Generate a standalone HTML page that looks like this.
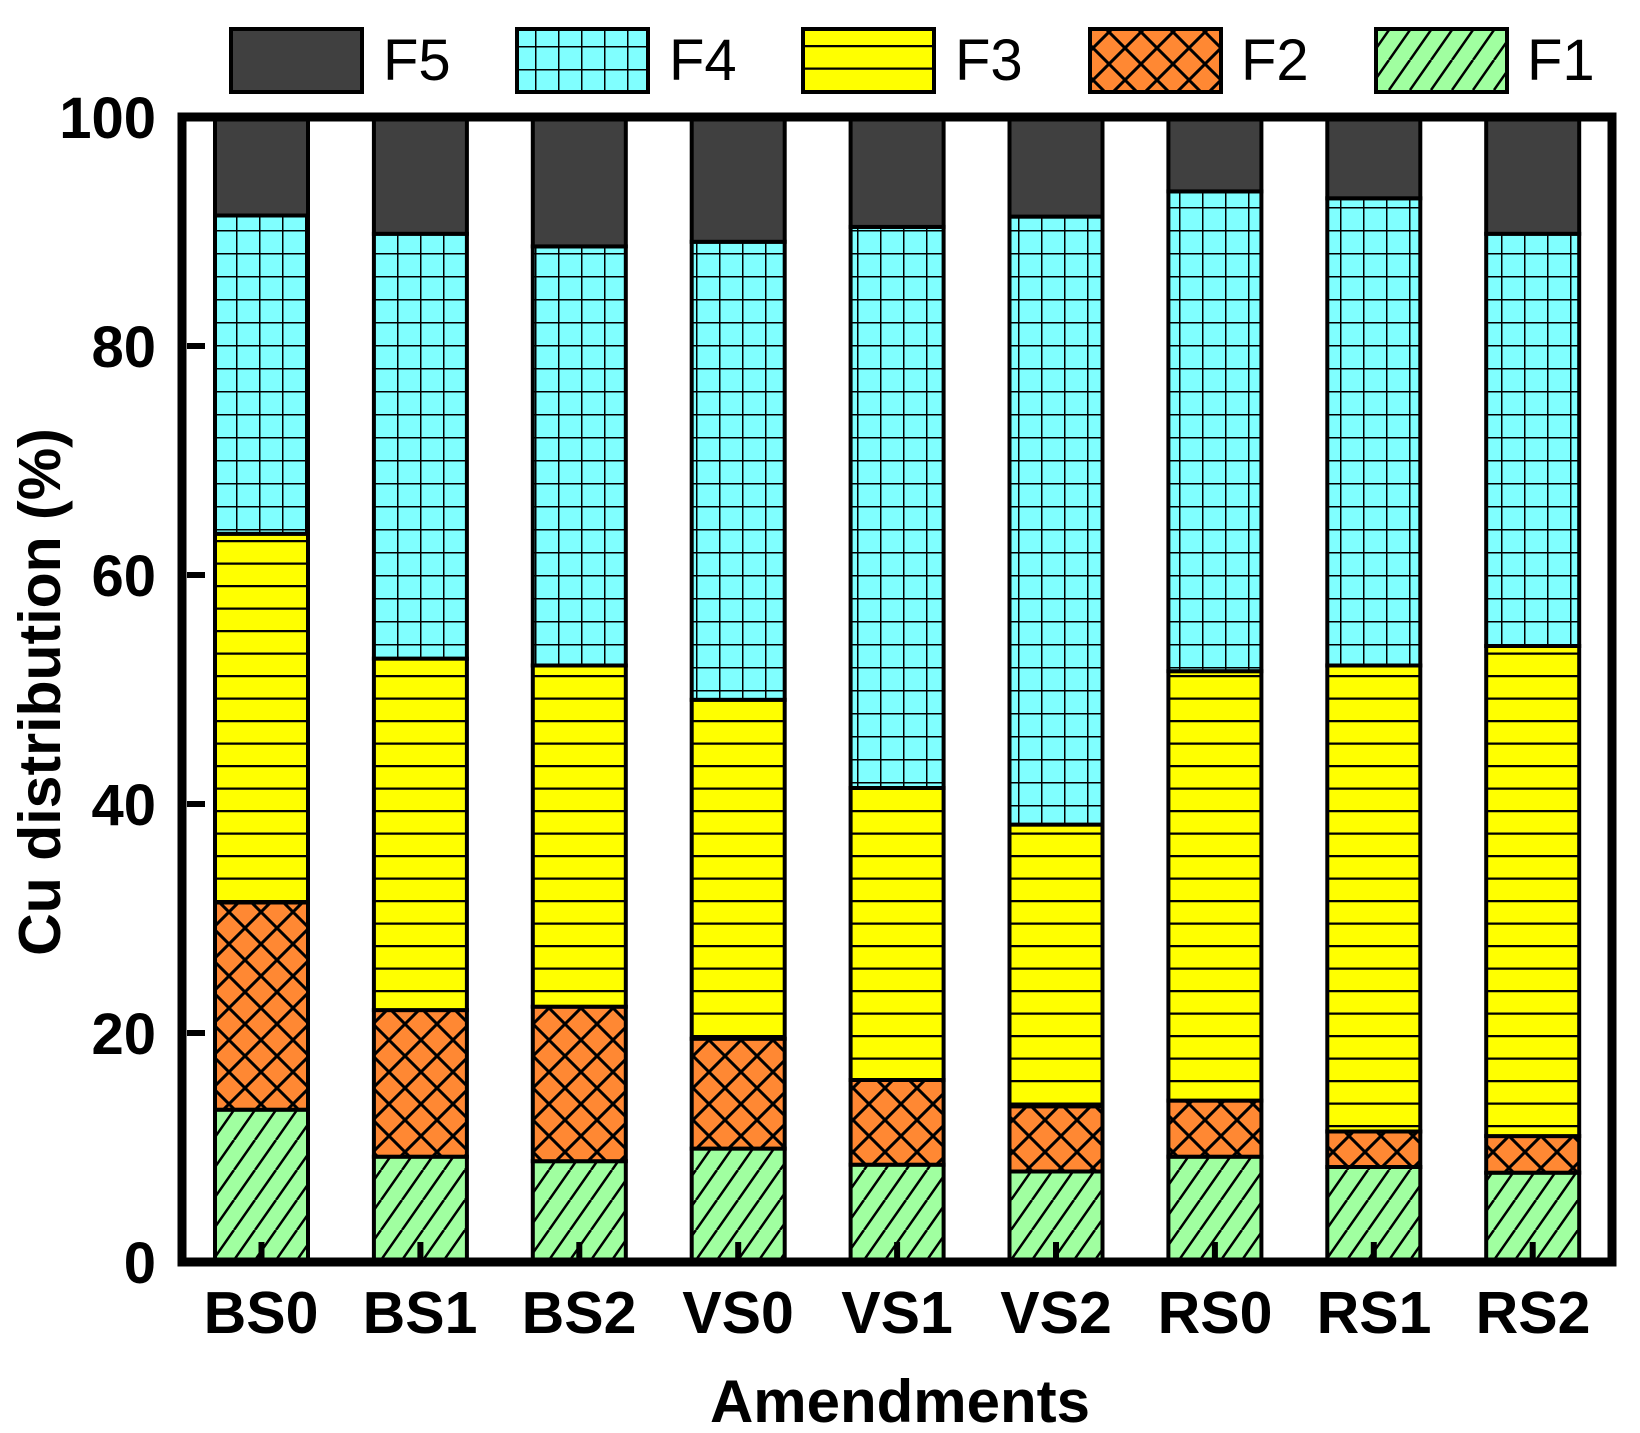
<!DOCTYPE html>
<html><head><meta charset="utf-8"><style>html,body{margin:0;padding:0;background:#fff}svg{display:block}</style></head>
<body>
<svg width="1640" height="1433" viewBox="0 0 1640 1433" xmlns="http://www.w3.org/2000/svg" font-family="Liberation Sans, Arial, sans-serif">
<defs>
<pattern id="p4" patternUnits="userSpaceOnUse" width="23" height="23" x="213" y="0">
<rect width="23" height="23" fill="#80ffff"/><path d="M0 0H23M0 0V23" stroke="#000" stroke-width="3"/></pattern>
<pattern id="p3" patternUnits="userSpaceOnUse" width="40" height="22.5">
<rect width="40" height="22.5" fill="#ffff00"/><path d="M0 1H40" stroke="#000" stroke-width="2.5"/></pattern>
<pattern id="p2" patternUnits="userSpaceOnUse" width="32" height="32" x="213">
<rect width="32" height="32" fill="#ff8833"/><path d="M0 0L32 32M32 0L0 32" stroke="#000" stroke-width="3"/></pattern>
<pattern id="p1" patternUnits="userSpaceOnUse" width="21" height="30" x="213">
<rect width="21" height="30" fill="#a0ffa0"/><path d="M-21 30L0 0M0 30L21 0M21 30L42 0" stroke="#000" stroke-width="2.5"/></pattern>
</defs>
<g stroke="#000" stroke-width="4">
<!-- BS0 -->
<rect x="215" y="1109.7" width="93" height="152.3" fill="url(#p1)"/>
<rect x="215" y="902.5" width="93" height="207.2" fill="url(#p2)"/>
<rect x="215" y="533.8" width="93" height="368.7" fill="url(#p3)"/>
<rect x="215" y="215.5" width="93" height="318.3" fill="url(#p4)"/>
<rect x="215" y="117" width="93" height="98.5" fill="#404040"/>
<!-- BS1 -->
<rect x="373.9" y="1156.7" width="93" height="105.3" fill="url(#p1)"/>
<rect x="373.9" y="1010.1" width="93" height="146.6" fill="url(#p2)"/>
<rect x="373.9" y="658.6" width="93" height="351.5" fill="url(#p3)"/>
<rect x="373.9" y="233.8" width="93" height="424.8" fill="url(#p4)"/>
<rect x="373.9" y="117" width="93" height="116.8" fill="#404040"/>
<!-- BS2 -->
<rect x="532.8" y="1161.2" width="93" height="100.8" fill="url(#p1)"/>
<rect x="532.8" y="1006.7" width="93" height="154.5" fill="url(#p2)"/>
<rect x="532.8" y="665.5" width="93" height="341.2" fill="url(#p3)"/>
<rect x="532.8" y="246.4" width="93" height="419.1" fill="url(#p4)"/>
<rect x="532.8" y="117" width="93" height="129.4" fill="#404040"/>
<!-- VS0 -->
<rect x="691.7" y="1148.6" width="93" height="113.4" fill="url(#p1)"/>
<rect x="691.7" y="1038.7" width="93" height="109.9" fill="url(#p2)"/>
<rect x="691.7" y="699.8" width="93" height="338.9" fill="url(#p3)"/>
<rect x="691.7" y="241.8" width="93" height="458" fill="url(#p4)"/>
<rect x="691.7" y="117" width="93" height="124.8" fill="#404040"/>
<!-- VS1 -->
<rect x="850.6" y="1164.7" width="93" height="97.3" fill="url(#p1)"/>
<rect x="850.6" y="1080" width="93" height="84.7" fill="url(#p2)"/>
<rect x="850.6" y="788" width="93" height="292" fill="url(#p3)"/>
<rect x="850.6" y="226.9" width="93" height="561.1" fill="url(#p4)"/>
<rect x="850.6" y="117" width="93" height="109.9" fill="#404040"/>
<!-- VS2 -->
<rect x="1009.5" y="1171.5" width="93" height="90.5" fill="url(#p1)"/>
<rect x="1009.5" y="1106.3" width="93" height="65.2" fill="url(#p2)"/>
<rect x="1009.5" y="824.6" width="93" height="281.7" fill="url(#p3)"/>
<rect x="1009.5" y="216.6" width="93" height="608" fill="url(#p4)"/>
<rect x="1009.5" y="117" width="93" height="99.6" fill="#404040"/>
<!-- RS0 -->
<rect x="1168.4" y="1156.7" width="93" height="105.3" fill="url(#p1)"/>
<rect x="1168.4" y="1100.6" width="93" height="56.1" fill="url(#p2)"/>
<rect x="1168.4" y="671.2" width="93" height="429.4" fill="url(#p3)"/>
<rect x="1168.4" y="191.4" width="93" height="479.8" fill="url(#p4)"/>
<rect x="1168.4" y="117" width="93" height="74.4" fill="#404040"/>
<!-- RS1 -->
<rect x="1327.3" y="1167" width="93" height="95" fill="url(#p1)"/>
<rect x="1327.3" y="1131.5" width="93" height="35.5" fill="url(#p2)"/>
<rect x="1327.3" y="665.5" width="93" height="466" fill="url(#p3)"/>
<rect x="1327.3" y="198.3" width="93" height="467.2" fill="url(#p4)"/>
<rect x="1327.3" y="117" width="93" height="81.3" fill="#404040"/>
<!-- RS2 -->
<rect x="1486.2" y="1172.7" width="93" height="89.3" fill="url(#p1)"/>
<rect x="1486.2" y="1136.1" width="93" height="36.6" fill="url(#p2)"/>
<rect x="1486.2" y="646" width="93" height="490.1" fill="url(#p3)"/>
<rect x="1486.2" y="233.8" width="93" height="412.2" fill="url(#p4)"/>
<rect x="1486.2" y="117" width="93" height="116.8" fill="#404040"/>
</g>
<g fill="#000">
<rect x="258.5" y="1242" width="6" height="20"/><rect x="417.4" y="1242" width="6" height="20"/><rect x="576.3" y="1242" width="6" height="20"/><rect x="735.2" y="1242" width="6" height="20"/><rect x="894.1" y="1242" width="6" height="20"/><rect x="1053" y="1242" width="6" height="20"/><rect x="1211.9" y="1242" width="6" height="20"/><rect x="1370.8" y="1242" width="6" height="20"/><rect x="1529.7" y="1242" width="6" height="20"/>
<rect x="187" y="1030" width="18" height="6"/><rect x="187" y="801" width="18" height="6"/><rect x="187" y="572" width="18" height="6"/><rect x="187" y="343" width="18" height="6"/>
</g>
<rect x="182" y="117" width="1430" height="1145" fill="none" stroke="#000" stroke-width="9"/>
<g font-size="58" font-weight="bold" text-anchor="end">
<text x="156" y="1283">0</text><text x="156" y="1054">20</text><text x="156" y="825">40</text><text x="156" y="596">60</text><text x="156" y="367">80</text><text x="156" y="138">100</text>
</g>
<g font-size="59" font-weight="bold" text-anchor="middle">
<text x="261" y="1333">BS0</text><text x="420" y="1333">BS1</text><text x="579" y="1333">BS2</text><text x="738" y="1333">VS0</text><text x="897" y="1333">VS1</text><text x="1056" y="1333">VS2</text><text x="1215" y="1333">RS0</text><text x="1374" y="1333">RS1</text><text x="1533" y="1333">RS2</text>
</g>
<text x="900" y="1422" font-size="60" font-weight="bold" text-anchor="middle">Amendments</text>
<text transform="translate(60,692) rotate(-90)" font-size="59" font-weight="bold" text-anchor="middle">Cu distribution (%)</text>
<g stroke="#000" stroke-width="4">
<rect x="231" y="29" width="131" height="63" fill="#404040"/>
<rect x="517" y="29" width="131" height="63" fill="url(#p4)"/>
<rect x="803" y="29" width="131" height="63" fill="url(#p3)"/>
<rect x="1090" y="29" width="131" height="63" fill="url(#p2)"/>
<rect x="1376" y="29" width="131" height="63" fill="url(#p1)"/>
</g>
<g font-size="58">
<text x="383" y="80">F5</text><text x="669" y="80">F4</text><text x="955" y="80">F3</text><text x="1241" y="80">F2</text><text x="1527" y="80">F1</text>
</g>
</svg>
</body></html>
